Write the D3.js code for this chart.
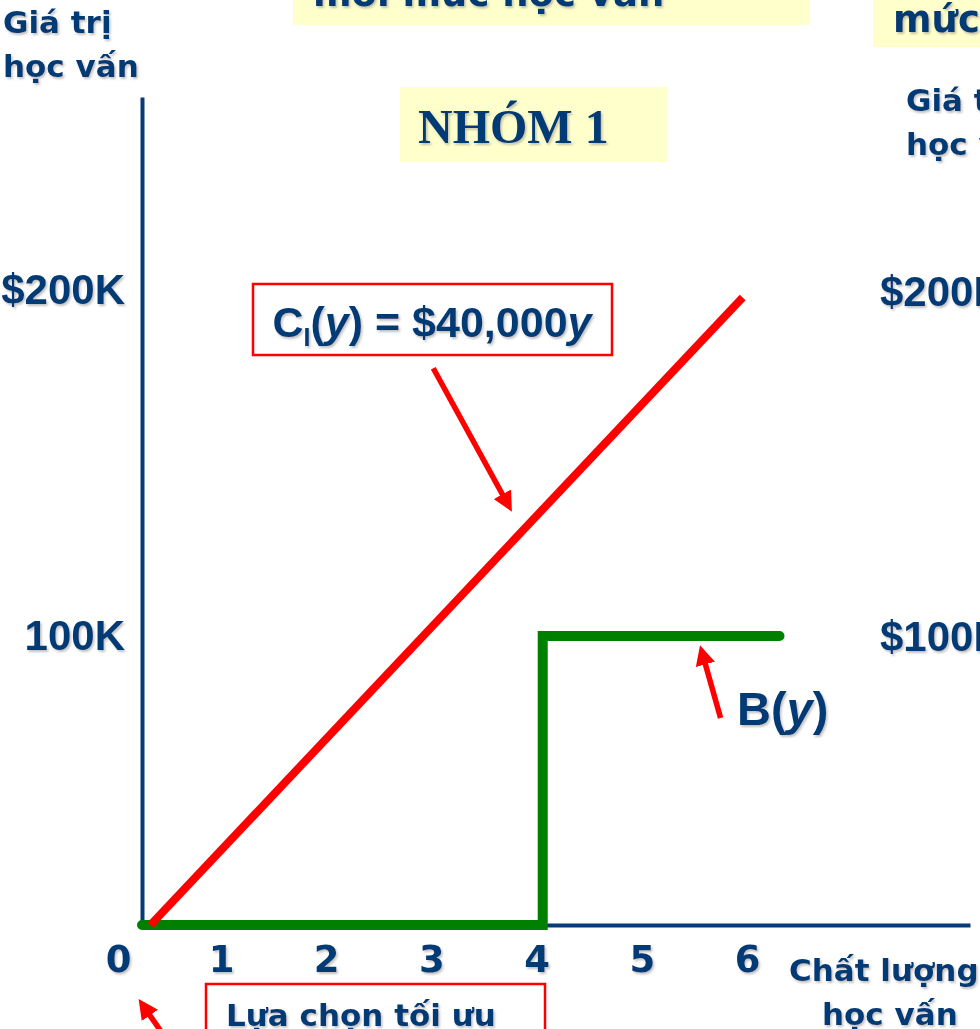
<!DOCTYPE html>
<html>
<head>
<meta charset="utf-8">
<script src="https://cdn.jsdelivr.net/npm/d3@7"></script>
<style>
  body { margin: 0; background: #fff; }
  svg { display: block; }
</style>
</head>
<body>
<div id="wrapper"></div>
<script>
// values
const xTicks = [0, 1, 2, 3, 4, 5, 6];
const xTickLabels = ["0", "1", "2", "3", "4", "5", "6"];
const yTicks = [100000, 200000];
const yTickLabels = ["100K", "$200K"];
const yTickLabelsRight = ["$100K", "$200K"];

// C_I(y) line and B(y) step
const costX = [0.1, 5.9];
const costValue = [0, 198000];
const benefitX = [0, 4, 4, 6.25];
const benefitValue = [0, 0, 100000, 100000];

// arrows pointing at the curves, in data units [x, value]
const costArrow = { from: [2.96, 177500], to: [3.68, 137500] };
const benefitArrow = { from: [5.69, 71600], to: [5.51, 94800] };

function drawChart() {
  const navy = "#063b75";
  const sansBold = "'DejaVu Sans', Verdana, sans-serif";
  const arial = "'Liberation Sans', Arial, sans-serif";
  const serif = "'Liberation Serif', 'Times New Roman', serif";

  const dimensions = { width: 980, height: 1029 };

  const wrapper = d3.select("#wrapper")
    .append("svg")
      .attr("width", dimensions.width)
      .attr("height", dimensions.height)
      .style("background", "#fff");

  const defs = wrapper.append("defs");
  defs.append("filter")
      .attr("id", "shadow")
      .attr("x", "-10%").attr("y", "-10%")
      .attr("width", "130%").attr("height", "140%")
    .append("feDropShadow")
      .attr("dx", 1.5).attr("dy", 2)
      .attr("stdDeviation", 1.2)
      .attr("flood-color", "#777")
      .attr("flood-opacity", 0.45);

  defs.append("marker")
      .attr("id", "head")
      .attr("viewBox", "0 0 10 10")
      .attr("refX", 7).attr("refY", 5)
      .attr("markerWidth", 3.6).attr("markerHeight", 3.6)
      .attr("markerUnits", "strokeWidth")
      .attr("orient", "auto")
    .append("path")
      .attr("d", "M0,0 L10,5 L0,10 z")
      .attr("fill", "#ff0000");

  // scales: the slide's origin gap is narrower than the other unit steps
  const xScale = d3.scaleLinear()
    .domain([0, 1, 8.06])
    .range([142, 227, 970]);

  const yScale = d3.scaleLinear()
    .domain([0, 100000, 256000])
    .range([925, 636, 97]);

  // yellow title boxes (cropped at the top of the slide)
  wrapper.append("rect")
    .attr("x", 293).attr("y", -10).attr("width", 517).attr("height", 35)
    .attr("fill", "#ffffcc");
  wrapper.append("text")
    .attr("x", 313).attr("y", 6)
    .attr("fill", navy).attr("filter", "url(#shadow)")
    .style("font-family", sansBold).style("font-weight", "bold").style("font-size", "37px")
    .text("mỗi mức học vấn");

  wrapper.append("rect")
    .attr("x", 873).attr("y", -10).attr("width", 120).attr("height", 57)
    .attr("fill", "#ffffcc");
  wrapper.append("text")
    .attr("x", 893).attr("y", 32)
    .attr("fill", navy).attr("filter", "url(#shadow)")
    .style("font-family", sansBold).style("font-weight", "bold").style("font-size", "37px")
    .text("mức");

  wrapper.append("rect")
    .attr("x", 400).attr("y", 87).attr("width", 268).attr("height", 75)
    .attr("fill", "#ffffcc");
  wrapper.append("text")
    .attr("x", 418).attr("y", 143)
    .attr("fill", navy).attr("filter", "url(#shadow)")
    .style("font-family", serif).style("font-weight", "bold").style("font-size", "48px")
    .text("NHÓM 1");

  // axis titles
  const axisTitle = (x, y, lines) => {
    const t = wrapper.append("text")
      .attr("fill", navy).attr("filter", "url(#shadow)")
      .style("font-family", sansBold).style("font-weight", "bold").style("font-size", "31px");
    lines.forEach((line, i) => {
      t.append("tspan").attr("x", line.x != null ? line.x : x).attr("y", y + i * 44).text(line.text);
    });
  };
  axisTitle(3, 33, [{ text: "Giá trị" }, { text: "học vấn" }]);
  axisTitle(906, 111, [{ text: "Giá trị" }, { text: "học vấn" }]);
  axisTitle(789, 981, [{ text: "Chất lượng" }, { x: 822, text: "học vấn" }]);

  // optimal choice box at the bottom (cropped)
  wrapper.append("rect")
    .attr("x", 206).attr("y", 984).attr("width", 339).attr("height", 80)
    .attr("fill", "#fff").attr("stroke", "#ff0000").attr("stroke-width", 2.5);
  wrapper.append("text")
    .attr("x", 226).attr("y", 1026)
    .attr("fill", navy).attr("filter", "url(#shadow)")
    .style("font-family", sansBold).style("font-weight", "bold").style("font-size", "31px")
    .text("Lựa chọn tối ưu");

  // axes
  const xAxisGenerator = d3.axisBottom(xScale)
    .tickValues(xTicks)
    .tickFormat((d, i) => xTickLabels[i])
    .tickSize(0)
    .tickSizeOuter(0)
    .tickPadding(21);

  const xAxis = wrapper.append("g")
    .attr("transform", `translate(0, ${yScale(0)})`)
    .call(xAxisGenerator);
  xAxis.select(".domain").attr("stroke", navy).attr("stroke-width", 4);
  xAxis.selectAll(".tick text")
    .attr("fill", navy).attr("filter", "url(#shadow)")
    .attr("dx", d => d === 0 ? -24 : -6)
    .style("font-family", sansBold).style("font-weight", "bold").style("font-size", "37px");

  const yAxisGenerator = d3.axisLeft(yScale)
    .tickValues(yTicks)
    .tickFormat((d, i) => yTickLabels[i])
    .tickSize(0)
    .tickSizeOuter(0)
    .tickPadding(17);

  const yAxis = wrapper.append("g")
    .attr("transform", `translate(${xScale(0)}, 0)`)
    .call(yAxisGenerator);
  yAxis.select(".domain").attr("stroke", navy).attr("stroke-width", 4);
  yAxis.selectAll(".tick text")
    .attr("fill", navy).attr("filter", "url(#shadow)")
    .style("font-family", arial).style("font-weight", "bold").style("font-size", "42px");

  // second panel's value labels peeking in at the right edge
  wrapper.append("g").selectAll("text")
    .data(yTicks)
    .join("text")
      .attr("x", 880)
      .attr("y", d => yScale(d))
      .attr("dy", "0.36em")
      .attr("fill", navy).attr("filter", "url(#shadow)")
      .style("font-family", arial).style("font-weight", "bold").style("font-size", "42px")
      .text((d, i) => yTickLabelsRight[i]);

  // curves
  const line = d3.line()
    .x(d => xScale(d[0]))
    .y(d => yScale(d[1]));

  wrapper.append("path")
    .datum(benefitX.map((x, i) => [x, benefitValue[i]]))
    .attr("d", line)
    .attr("fill", "none")
    .attr("stroke", "#008000")
    .attr("stroke-width", 10)
    .attr("stroke-linecap", "round")
    .attr("stroke-linejoin", "miter");

  wrapper.append("path")
    .datum(costX.map((x, i) => [x, costValue[i]]))
    .attr("d", line)
    .attr("fill", "none")
    .attr("stroke", "#ff0000")
    .attr("stroke-width", 8);

  // formula label box
  wrapper.append("rect")
    .attr("x", 253).attr("y", 284).attr("width", 359).attr("height", 71)
    .attr("fill", "#fff").attr("stroke", "#ff0000").attr("stroke-width", 2.5);

  const formula = wrapper.append("text")
    .attr("x", 432).attr("y", 337)
    .attr("text-anchor", "middle")
    .attr("fill", navy).attr("filter", "url(#shadow)")
    .style("font-family", arial).style("font-weight", "bold").style("font-size", "43px");
  formula.append("tspan").text("C");
  formula.append("tspan").attr("dy", 9).style("font-size", "25px").text("I");
  formula.append("tspan").attr("dy", -9).text("(");
  formula.append("tspan").style("font-style", "italic").text("y");
  formula.append("tspan").text(") = $40,000");
  formula.append("tspan").style("font-style", "italic").text("y");

  // B(y) label
  const bLabel = wrapper.append("text")
    .attr("x", 737).attr("y", 725)
    .attr("fill", navy).attr("filter", "url(#shadow)")
    .style("font-family", arial).style("font-weight", "bold").style("font-size", "47px");
  bLabel.append("tspan").text("B(");
  bLabel.append("tspan").style("font-style", "italic").text("y");
  bLabel.append("tspan").text(")");

  // red arrows
  const arrow = (x1, y1, x2, y2) => wrapper.append("line")
    .attr("x1", x1).attr("y1", y1).attr("x2", x2).attr("y2", y2)
    .attr("stroke", "#ff0000").attr("stroke-width", 5.5)
    .attr("marker-end", "url(#head)");

  arrow(xScale(costArrow.from[0]), yScale(costArrow.from[1]),
        xScale(costArrow.to[0]), yScale(costArrow.to[1]));
  arrow(xScale(benefitArrow.from[0]), yScale(benefitArrow.from[1]),
        xScale(benefitArrow.to[0]), yScale(benefitArrow.to[1]));
  arrow(167, 1040, 142, 1004);
}

drawChart();
</script>
</body>
</html>
